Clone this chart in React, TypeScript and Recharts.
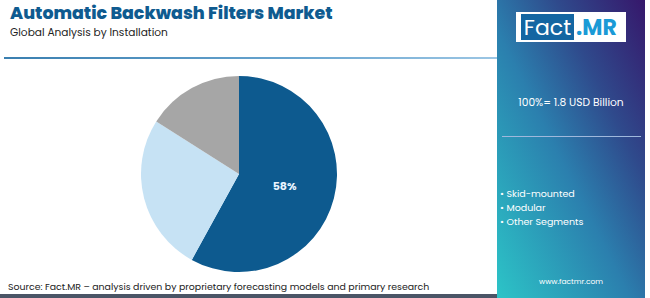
import { PieChart, Pie, Cell } from "recharts";

const segments = ["Skid-mounted", "Modular", "Other Segments"];
const shares = [58, 26, 16];
const colors = ["#0d5a8f", "#c6e2f4", "#a6a6a6"];

const data = segments.map((name, i) => ({ name, value: shares[i] }));

const RAD = Math.PI / 180;
const font = "Poppins, 'Open Sans', Lato, sans-serif";

function renderLabel(props: any) {
  const { cx, cy, midAngle, outerRadius, index, value } = props;
  if (index !== 0) return null;
  const r = outerRadius * 0.48;
  const x = cx + r * Math.cos(-midAngle * RAD);
  const y = cy + r * Math.sin(-midAngle * RAD);
  return (
    <text
      x={x}
      y={y}
      fill="#e8f4ff"
      fontSize={11}
      fontWeight={700}
      fontFamily={font}
      textAnchor="middle"
      dominantBaseline="central"
    >
      {`${value}%`}
    </text>
  );
}

export default function App() {
  return (
    <div
      style={{
        position: "absolute",
        left: 0,
        top: 0,
        width: 650,
        height: 298,
        background: "#fff",
        overflow: "hidden",
        fontFamily: font,
      }}
    >
      <div
        style={{
          position: "absolute",
          left: 10,
          top: 3,
          fontSize: 17.4,
          lineHeight: "21px",
          fontWeight: 800,
          color: "#0f5b90",
        }}
      >
        Automatic Backwash Filters Market
      </div>
      <div style={{ position: "absolute", left: 10, top: 26, fontSize: 10.6, lineHeight: "13px", color: "#222" }}>
        Global Analysis by Installation
      </div>
      <div
        style={{
          position: "absolute",
          left: 4,
          top: 57,
          width: 493,
          height: 2,
          background: "linear-gradient(to right, #3a7fb0, #6aa6d0 60%, #9cc6e4)",
        }}
      />

      <div style={{ position: "absolute", left: 0, top: 0 }}>
        <PieChart width={497} height={298}>
          <Pie
            data={data}
            dataKey="value"
            nameKey="name"
            cx={234}
            cy={169}
            outerRadius={98}
            startAngle={90}
            endAngle={-270}
            stroke="none"
            label={renderLabel}
            labelLine={false}
            isAnimationActive={false}
          >
            {data.map((d, i) => (
              <Cell key={d.name} fill={colors[i]} />
            ))}
          </Pie>
        </PieChart>
      </div>

      <div
        style={{
          position: "absolute",
          left: 8,
          top: 280,
          fontSize: 9.4,
          lineHeight: "14px",
          color: "#222",
        }}
      >
        Source: Fact.MR – analysis driven by proprietary forecasting models and primary research
      </div>
      <div style={{ position: "absolute", left: 0, top: 294, width: 497, height: 4, background: "#4a5566" }} />

      <div
        style={{
          position: "absolute",
          left: 497,
          top: 0,
          width: 148,
          height: 298,
          background: "linear-gradient(to top right, #2cc4c7 0%, #2b7fae 45%, #2f4a8c 70%, #36176b 100%)",
          color: "#fff",
        }}
      >
        <div
          style={{
            position: "absolute",
            left: 19,
            top: 12,
            width: 110,
            height: 30,
            background: "#fff",
          }}
        >
          <div
            style={{
              position: "absolute",
              left: 5,
              top: 2,
              width: 53,
              height: 26,
              background: "#1466a2",
              color: "#fff",
              fontSize: 22,
              lineHeight: "28px",
              textAlign: "center",
            }}
          >
            Fact
          </div>
          <div
            style={{
              position: "absolute",
              left: 60,
              top: 2,
              fontSize: 22,
              lineHeight: "28px",
              fontWeight: 700,
              color: "#1a9ad6",
            }}
          >
            .MR
          </div>
        </div>
        <div
          style={{
            position: "absolute",
            left: 0,
            width: 148,
            top: 96,
            textAlign: "center",
            fontSize: 10.7,
            lineHeight: "14px",
          }}
        >
          100%= 1.8 USD Billion
        </div>
        <div style={{ position: "absolute", left: 5, top: 136, width: 139, height: 1, background: "#9fb8dc" }} />
        <div style={{ position: "absolute", left: 3, top: 187, fontSize: 9.5, lineHeight: "14px" }}>
          {segments.map((s) => (
            <div key={s}>{`• ${s}`}</div>
          ))}
        </div>
        <div
          style={{
            position: "absolute",
            left: 0,
            width: 148,
            top: 277,
            textAlign: "center",
            fontSize: 7.5,
            lineHeight: "10px",
          }}
        >
          www.factmr.com
        </div>
      </div>
    </div>
  );
}
